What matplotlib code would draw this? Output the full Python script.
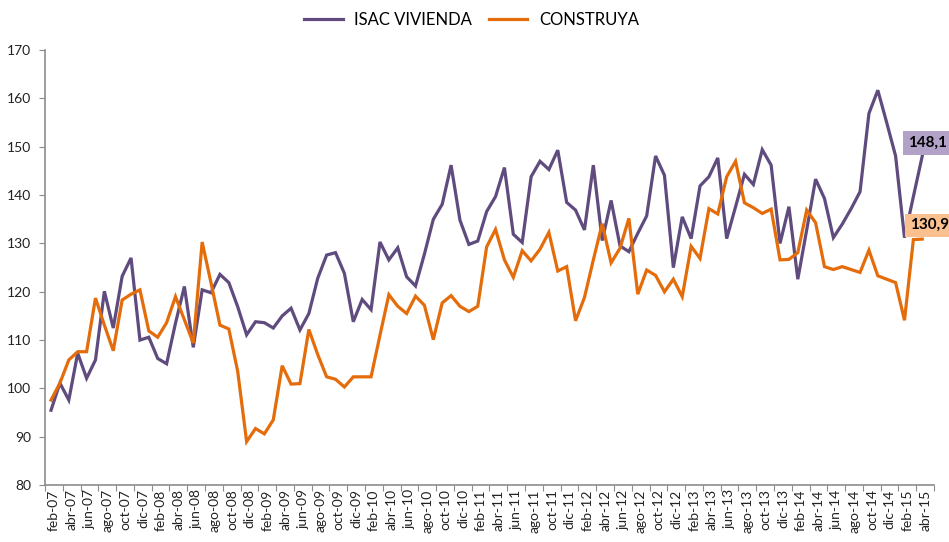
import numpy as np
import matplotlib
matplotlib.use("Agg")
import matplotlib.pyplot as plt

# monthly series, feb-07 .. abr-15
meses = ["ene", "feb", "mar", "abr", "may", "jun",
         "jul", "ago", "sep", "oct", "nov", "dic"]
periodos = [f"{meses[m]}-{a % 100:02d}" for a in range(2007, 2016)
            for m in range(12)][1:100]

isac_vivienda = [
    95.5, 101.1, 97.6, 107.3, 102.1, 105.9, 120.1, 112.5, 123.2, 127.0,
    110.0, 110.6, 106.2, 105.1, 113.5, 121.1, 108.5, 120.4, 119.8, 123.6,
    121.9, 116.9, 111.1, 113.8, 113.6, 112.5, 115.0, 116.6, 112.1, 115.5,
    122.8, 127.6, 128.1, 123.8, 113.8, 118.4, 116.3, 130.3, 126.6, 129.1,
    123.1, 121.2, 127.8, 135.0, 138.1, 146.2, 134.8, 129.8, 130.5, 136.6,
    139.7, 145.7, 131.9, 130.2, 143.8, 147.0, 145.3, 149.3, 138.5, 136.9,
    132.8, 146.2, 130.6, 138.9, 129.5, 128.3, 132.1, 135.7, 148.1, 144.1,
    125.0, 135.5, 131.0, 141.9, 143.8, 147.7, 131.0, 137.6, 144.3, 142.2,
    149.4, 146.2, 130.0, 137.6, 122.6, 132.8, 143.3, 139.3, 131.2, 134.0,
    137.2, 140.7, 156.9, 161.7, 155.0, 148.1, 131.2, 139.7, 148.1,
]

construya = [
    97.6, 101.1, 105.9, 107.6, 107.6, 118.7, 113.1, 107.8, 118.3, 119.5,
    120.4, 111.9, 110.6, 113.6, 119.0, 114.2, 109.4, 130.3, 121.8, 113.1,
    112.3, 103.5, 89.0, 91.7, 90.6, 93.5, 104.7, 100.9, 101.0, 112.2,
    107.0, 102.4, 101.9, 100.3, 102.4, 102.4, 102.4, 111.0, 119.4, 117.0,
    115.5, 119.1, 117.2, 110.1, 117.7, 119.2, 117.0, 115.9, 117.0, 129.3,
    132.9, 126.6, 123.0, 128.5, 126.4, 128.8, 132.3, 124.3, 125.2, 114.0,
    118.8, 126.6, 134.1, 126.0, 129.0, 135.2, 119.5, 124.5, 123.4, 120.0,
    122.6, 119.0, 129.4, 126.9, 137.2, 136.1, 143.8, 147.0, 138.4, 137.4,
    136.2, 137.1, 126.6, 126.7, 128.1, 136.9, 134.3, 125.2, 124.6, 125.2,
    124.6, 124.0, 128.6, 123.3, 122.6, 121.9, 114.1, 130.8, 130.9,
]

PURPLE = "#5F4B7E"
ORANGE = "#E46C0A"
AXIS_GRAY = "#8C8C8C"

plt.rcParams["font.family"] = ["Lato", "DejaVu Sans"]

fig = plt.figure(figsize=(9.49, 5.42), dpi=100)
ax = fig.add_axes([0.0474, 0.105, 0.9368, 0.8025])

x = np.arange(len(periodos))
ax.plot(x, isac_vivienda, color=PURPLE, linewidth=2.3, label="ISAC VIVIENDA",
        solid_joinstyle="miter")
ax.plot(x, construya, color=ORANGE, linewidth=2.3, label="CONSTRUYA",
        solid_joinstyle="miter")

# axes
ax.set_xlim(-0.68, 99.32)
ax.set_ylim(80, 170)
ax.set_yticks(np.arange(80, 171, 10))
ax.tick_params(axis="y", direction="out", length=4, color=AXIS_GRAY,
               labelsize=10, labelcolor="#222222", pad=6)

ax.set_xticks(np.arange(-0.68, 100, 2))
ax.set_xticklabels([])
ax.tick_params(axis="x", which="major", direction="out", length=4,
               color=AXIS_GRAY)
ax.set_xticks(x[::2] + 0.35, minor=True)
ax.set_xticklabels(periodos[::2], minor=True, rotation=90)
ax.tick_params(axis="x", which="minor", length=0, labelsize=10,
               labelcolor="#222222", pad=3)

for side in ("top", "right"):
    ax.spines[side].set_visible(False)
for side in ("left", "bottom"):
    ax.spines[side].set_color(AXIS_GRAY)
    ax.spines[side].set_linewidth(1.2)

# last-value labels
last = len(periodos) - 1
ax.annotate(f"{isac_vivienda[last]:.1f}".replace(".", ","),
            xy=(last, isac_vivienda[last]), xytext=(5, 13),
            textcoords="offset pixels", ha="center", va="center",
            fontsize=11, fontweight="bold", color="black",
            annotation_clip=False,
            bbox=dict(boxstyle="square,pad=0.3", fc="#B3A2C7", ec="none"))
ax.annotate(f"{construya[last]:.1f}".replace(".", ","),
            xy=(last, construya[last]), xytext=(7, 14),
            textcoords="offset pixels", ha="center", va="center",
            fontsize=11, fontweight="bold", color="black",
            annotation_clip=False,
            bbox=dict(boxstyle="square,pad=0.3", fc="#FAC090", ec="none"))

fig.legend(loc="upper center", bbox_to_anchor=(0.497, 1.005), ncol=2,
           frameon=False, fontsize=12, handlelength=2.3, handletextpad=0.7,
           columnspacing=1.0)

fig.savefig("out.png", dpi=100)
